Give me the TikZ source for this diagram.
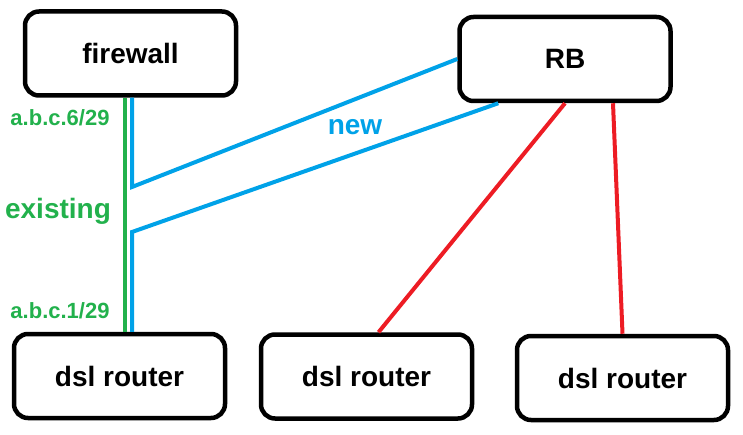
\documentclass[tikz,border=0pt]{standalone}
\usepackage{fontspec}
\setmainfont{Liberation Sans}
\usepackage{tikz}
\usetikzlibrary{shapes.geometric, arrows, arrows.meta, positioning, calc}
\definecolor{netgreen}{RGB}{34,177,76}
\definecolor{netblue}{RGB}{0,162,232}
\definecolor{netred}{RGB}{237,28,36}
\tikzstyle{box} = [rectangle,
rounded corners=14pt,
minimum width=211pt,
minimum height=84pt,
line width=4.5pt,
draw=black,
font=\fontsize{28}{32}\selectfont\bfseries]
\tikzstyle{oldlink} = [line width=4pt, draw=netgreen]
\tikzstyle{newlink} = [line width=4pt, draw=netblue, line join=miter]
\tikzstyle{rblink} = [line width=4pt, draw=netred]
\tikzstyle{iplabel} = [text=netgreen, font=\fontsize{22}{26}\selectfont\bfseries]

\begin{document}
\begin{tikzpicture}[x=1pt, y=-1pt]
            \useasboundingbox (0,0) rectangle (743,435);

            \node (firewall) [box] at (130.5,53.5) {firewall};
            \node (RB) [box] at (565,59) {RB};
            \node (dsl1) [box] at (119.5,376) {dsl router};
            \node (dsl2) [box] at (366.5,376.5) {dsl router};
            \node (dsl3) [box] at (622.5,378) {dsl router};

            % bends of the new links along the existing one
            \coordinate (upper) at (132,187);
            \coordinate (lower) at (132,232);

            \draw [oldlink] ($(firewall.south)+(-5.5,0)$) -- ($(dsl1.north)+(5.5,0)$);
            \draw [newlink] (firewall.south -| upper) -- (upper) -- (RB.west);
            \draw [newlink] (dsl1.north -| lower) -- (lower) -- ($(RB.south west)+(41,0)$);
            \draw [rblink] (RB.south) -- ($(dsl2.north)+(12,0)$);
            \draw [rblink] ($(RB.south)+(48,0)$) -- (dsl3.north);

            \node (ipfw) [iplabel] at (60,118) {a.b.c.6/29};
            \node (exist) [text=netgreen, font=\fontsize{28}{32}\selectfont\bfseries] at (58,211) {existing};
            \node (ipdsl) [iplabel] at (60,311) {a.b.c.1/29};
            \node (new) [text=netblue, font=\fontsize{28}{32}\selectfont\bfseries] at (355,127) {new};
        \end{tikzpicture}
\end{document}
